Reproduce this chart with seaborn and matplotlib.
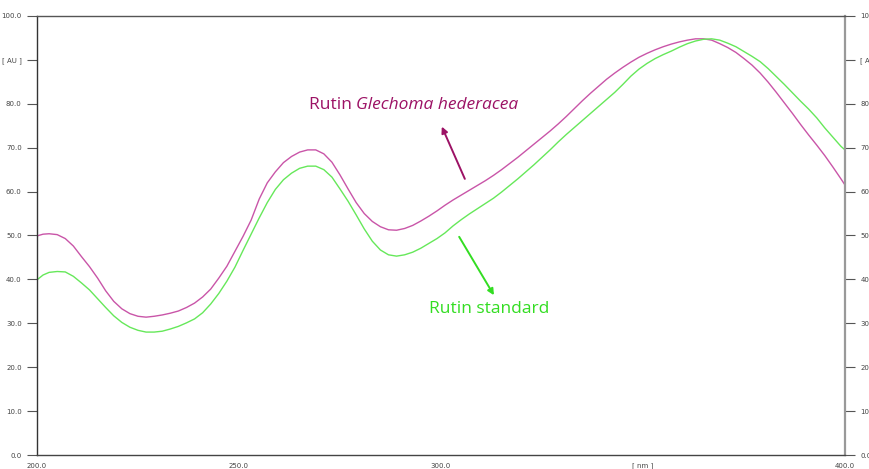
import matplotlib
matplotlib.use("Agg")
import matplotlib.pyplot as plt
import seaborn as sns
import pandas as pd

# UV spectra (absorbance, AU) sampled on a shared wavelength grid (nm)
wavelength = [200, 201.5, 203, 205, 207, 209, 211, 213, 215, 217, 219, 221, 223, 225,
              227, 229, 231, 233, 235, 237, 239, 241, 243, 245, 247, 249, 251, 253,
              255, 257, 259, 261, 263, 265, 267, 269, 271, 273, 275, 277, 279, 281,
              283, 285, 287, 289, 291, 293, 295, 297, 299, 301, 303, 305, 307, 309,
              311, 313, 315, 317, 319, 321, 323, 325, 327, 329, 331, 333, 335, 337,
              339, 341, 343, 345, 347, 349, 351, 353, 355, 357, 359, 361, 363, 365,
              367, 369, 371, 373, 375, 377, 379, 381, 383, 385, 387, 389, 391, 393,
              395, 397, 399, 400]

au_sample = [49.9, 50.3, 50.4, 50.2, 49.3, 47.6, 45.2, 42.9, 40.3, 37.4, 35.0, 33.3, 32.2, 31.6,
             31.4, 31.6, 31.9, 32.3, 32.8, 33.6, 34.6, 36.0, 37.8, 40.3, 43.0, 46.4, 49.8, 53.5,
             58.3, 62.0, 64.5, 66.6, 68.0, 69.0, 69.5, 69.5, 68.6, 66.7, 63.8, 60.6, 57.5, 55.0,
             53.2, 52.0, 51.3, 51.2, 51.6, 52.3, 53.3, 54.4, 55.6, 56.9, 58.1, 59.2, 60.3, 61.4,
             62.5, 63.7, 65.0, 66.4, 67.8, 69.3, 70.8, 72.3, 73.8, 75.4, 77.1, 78.9, 80.7, 82.4,
             84.0, 85.6, 87.0, 88.3, 89.5, 90.6, 91.5, 92.3, 93.0, 93.6, 94.1, 94.5, 94.8, 94.8,
             94.5, 93.7, 92.8, 91.7, 90.3, 88.8, 87.0, 84.9, 82.6, 80.2, 77.8, 75.3, 72.9, 70.6,
             68.2, 65.6, 62.9, 61.5]

au_standard = [39.9, 41.0, 41.6, 41.8, 41.7, 40.7, 39.2, 37.6, 35.6, 33.6, 31.7, 30.2, 29.1, 28.4,
               28.0, 28.0, 28.2, 28.7, 29.3, 30.1, 31.0, 32.4, 34.4, 36.8, 39.6, 42.8, 46.6, 50.3,
               54.0, 57.5, 60.5, 62.7, 64.2, 65.3, 65.8, 65.8, 65.0, 63.3, 60.6, 57.8, 54.7, 51.5,
               48.7, 46.7, 45.6, 45.3, 45.6, 46.2, 47.1, 48.2, 49.3, 50.6, 52.2, 53.6, 54.9, 56.1,
               57.3, 58.5, 59.9, 61.4, 62.9, 64.5, 66.1, 67.8, 69.5, 71.3, 73.0, 74.6, 76.2, 77.8,
               79.4, 81.0, 82.6, 84.4, 86.3, 87.9, 89.2, 90.3, 91.2, 92.0, 92.9, 93.7, 94.3, 94.7,
               94.8, 94.5, 93.8, 93.0, 91.9, 90.8, 89.6, 88.0, 86.2, 84.4, 82.5, 80.6, 78.8, 76.8,
               74.5, 72.4, 70.3, 69.5]

series_names = ["Rutin Glechoma hederacea", "Rutin standard"]
x_ticks = [200, 250, 300, 350, 400]
x_tick_labels = ["200.0", "250.0", "300.0", "[ nm ]", "400.0"]
y_ticks = [0, 10, 20, 30, 40, 50, 60, 70, 80, 90, 100]
y_tick_labels = ["0.0", "10.0", "20.0", "30.0", "40.0", "50.0", "60.0",
                 "70.0", "80.0", "[ AU ]", "100.0"]

df = pd.concat([
    pd.DataFrame({"nm": wavelength, "AU": au_sample, "series": series_names[0]}),
    pd.DataFrame({"nm": wavelength, "AU": au_standard, "series": series_names[1]}),
])

sns.set_style("white")
plt.rcParams["font.family"] = ["DejaVu Sans"]

fig = plt.figure(figsize=(8.7, 4.69), dpi=100)
ax = fig.add_axes([37 / 870, 14 / 469, 808 / 870, 439 / 469])

line_colors = {series_names[0]: "#c955a8", series_names[1]: "#66e85a"}
sns.lineplot(data=df, x="nm", y="AU", hue="series", palette=line_colors,
             linewidth=1.0, legend=False, ax=ax, estimator=None, sort=True)

ax.set_xlim(200, 400)
ax.set_ylim(0, 100)
ax.set_xlabel("")
ax.set_ylabel("")
ax.set_xticks(x_ticks)
ax.set_xticklabels(x_tick_labels)
ax.set_yticks(y_ticks)
ax.set_yticklabels(y_tick_labels)

ax.tick_params(axis="y", which="both", direction="out", length=7, width=0.8,
               colors="#555555", labelsize=5, labelcolor="#444444",
               left=True, right=True, labelleft=True, labelright=True, pad=4)
ax.tick_params(axis="x", direction="inout", length=5, width=0.8,
               colors="#555555", labelsize=5, labelcolor="#444444", pad=3)

for side, col, lw in [("left", "#333333", 1.0), ("bottom", "#444444", 1.0),
                      ("top", "#555555", 1.0), ("right", "#999999", 1.6)]:
    ax.spines[side].set_visible(True)
    ax.spines[side].set_color(col)
    ax.spines[side].set_linewidth(lw)

# Series annotations
ax.text(279.0, 79.7, "Rutin ", color="#9c1265", fontsize=12.5,
        ha="right", va="center", family="Open Sans")
ax.text(279.0, 79.7, "Glechoma hederacea", color="#9c1265", fontsize=12.5,
        ha="left", va="center", style="italic", family="Open Sans")
ax.annotate("", xy=(300.2, 74.8), xytext=(305.9, 62.9),
            arrowprops=dict(arrowstyle="-|>", color="#9c1265", lw=1.4,
                            mutation_scale=9, shrinkA=0, shrinkB=0))

ax.text(311.9, 33.2, "Rutin standard", color="#33dd22", fontsize=12.5,
        ha="center", va="center", family="Open Sans")
ax.annotate("", xy=(313.1, 36.4), xytext=(304.5, 49.7),
            arrowprops=dict(arrowstyle="-|>", color="#33dd22", lw=1.4,
                            mutation_scale=9, shrinkA=0, shrinkB=0))

fig.savefig("out.png", dpi=100)
